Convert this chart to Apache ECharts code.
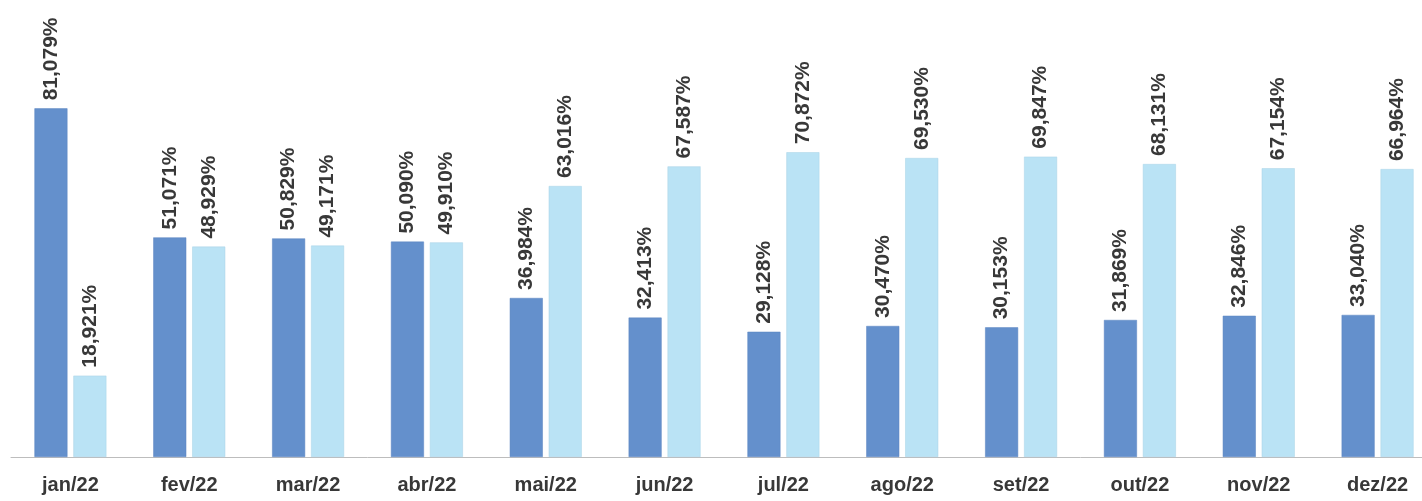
<!DOCTYPE html>
<html><head><meta charset="utf-8">
<script src="https://cdn.jsdelivr.net/npm/echarts@6/dist/echarts.min.js"></script>
<style>html,body{margin:0;padding:0;background:#fff;overflow:hidden}#c{width:1440px;height:501px}</style>
</head><body><div id="c"></div>
<script>
var categories = ['jan/22','fev/22','mar/22','abr/22','mai/22','jun/22','jul/22','ago/22','set/22','out/22','nov/22','dez/22'];
var seriesA = [81.079,51.071,50.829,50.090,36.984,32.413,29.128,30.470,30.153,31.869,32.846,33.040];
var seriesB = [18.921,48.929,49.171,49.910,63.016,67.587,70.872,69.530,69.847,68.131,67.154,66.964];

function fmt(p){ return p.value.toFixed(3).replace('.', ',') + '%'; }
var labelCfg = {
  show: true, position: 'top', rotate: 90, align: 'left', verticalAlign: 'middle',
  distance: 8, formatter: fmt, color: '#383838', fontSize: 21, fontWeight: 'bold',
  fontFamily: 'Liberation Sans, Arial, sans-serif'
};
var chart = echarts.init(document.getElementById('c'), null, {renderer: 'canvas', width: 1440, height: 501});
chart.setOption({
  animation: false,
  grid: {left: 11, right: 3, top: 27, bottom: 44, containLabel: false},
  xAxis: {
    type: 'category', data: categories,
    axisLine: {lineStyle: {color: '#bdbdbd', width: 1}},
    axisTick: {show: false},
    axisLabel: {color: '#383838', fontSize: 20, fontWeight: 'bold', margin: 18,
      fontFamily: 'Liberation Sans, Arial, sans-serif'}
  },
  yAxis: {type: 'value', min: 0, max: 100, show: false, splitLine: {show: false}},
  series: [
    {type: 'bar', data: seriesA, barWidth: 33, barGap: '18%',
     itemStyle: {color: '#6490cc', borderColor: '#5a84c0', borderWidth: 0.5}, label: labelCfg},
    {type: 'bar', data: seriesB, barWidth: 33,
     itemStyle: {color: '#bae3f5', borderColor: '#a9d2e6', borderWidth: 0.5}, label: labelCfg}
  ]
});
</script></body></html>
